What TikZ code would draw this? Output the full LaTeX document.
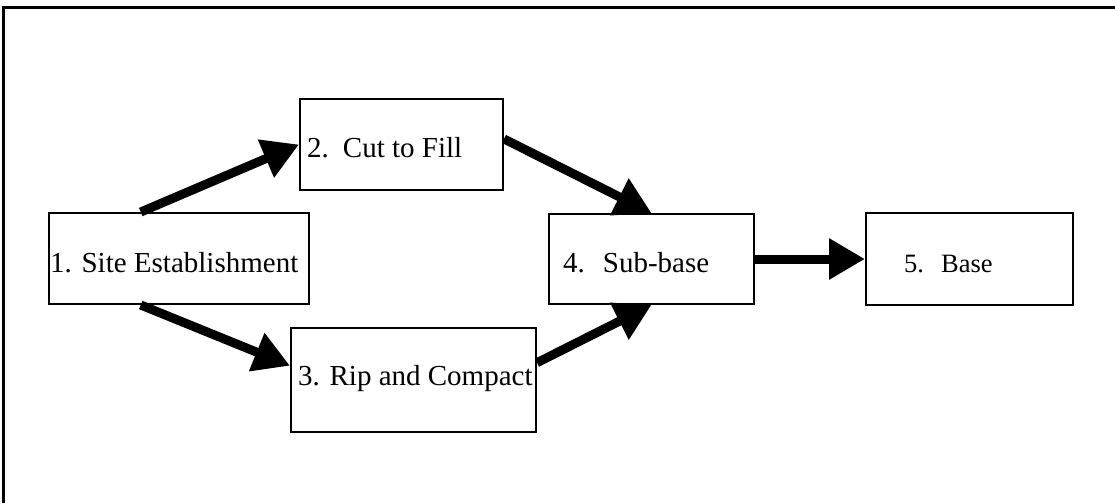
\documentclass[tikz,border=0pt]{standalone}
\usepackage{fontspec}
\setmainfont{Liberation Serif}
\usetikzlibrary{arrows.meta,calc}
\begin{document}
\begin{tikzpicture}[x=1pt,y=-1pt,
  box/.style={draw,line width=2pt,rectangle,inner sep=0pt,anchor=north west},
  lbl/.style={anchor=base west,inner sep=0pt,font=\fontsize{29}{34}\selectfont},
  lblsmall/.style={anchor=base west,inner sep=0pt,font=\fontsize{26.5}{31}\selectfont},
  flow/.style={line width=9pt,-{Triangle[length=36pt,width=39pt]}}]
\useasboundingbox (0,0) rectangle (1115,503);
\draw[line width=2.5pt] (3.5,503) -- (3.5,7.5) -- (1115,7.5);

\node[box,minimum width=260pt,minimum height=91pt] (b1) at (48,212) {};
\node[box,minimum width=203pt,minimum height=91pt] (b2) at (299,98) {};
\node[box,minimum width=245pt,minimum height=104pt] (b3) at (290,327) {};
\node[box,minimum width=205pt,minimum height=90pt] (b4) at (548,213) {};
\node[box,minimum width=207pt,minimum height=92pt] (b5) at (865,212) {};

\node[lbl] (t1) at (50,272) {1. Site Establishment};
\node[lbl] (t2) at (307,157) {2.\hspace{14pt}Cut to Fill};
\node[lbl] (t3) at (298,385) {3. Rip and Compact};
\node[lbl] (t4) at (563,272) {4.\hspace{18pt}Sub-base};
\node[lblsmall] (t5) at (904,272) {5.\hspace{17pt}Base};

\draw[flow] ($(b1.north west)!0.354!(b1.north east)$) -- (b2.west);
\draw[flow] ($(b1.south west)!0.354!(b1.south east)$) -- ($(b3.north west)!0.365!(b3.south west)$);
\draw[flow] ($(b2.north east)!0.44!(b2.south east)$) -- (b4.north);
\draw[flow] ($(b3.north east)!0.337!(b3.south east)$) -- (b4.south);
\draw[flow] (b4.east) -- (b5.west);
\end{tikzpicture}
\end{document}
